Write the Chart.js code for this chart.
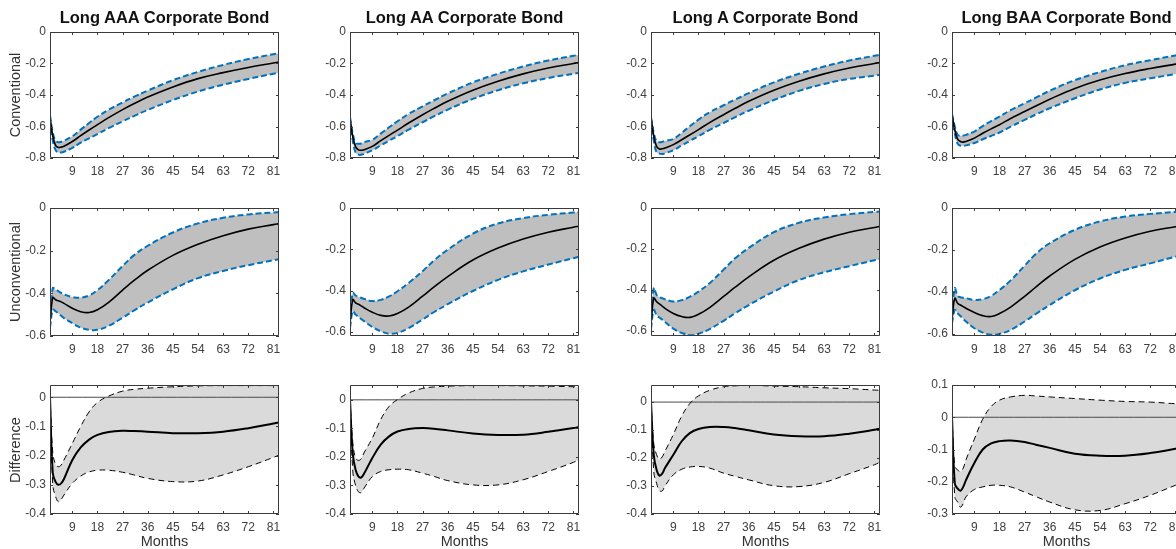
<!DOCTYPE html>
<html>
<head>
<meta charset="utf-8">
<title>Corporate bond responses</title>
<script src="https://cdn.jsdelivr.net/npm/chart.js@4.4.0/dist/chart.umd.min.js"></script>
<style>
  html, body { margin: 0; padding: 0; background: #fff; overflow: hidden; }
  body { width: 1176px; height: 549px; position: relative; font-family: "Liberation Sans", Arial, Helvetica, sans-serif; }
  .panel { position: absolute; }
  .title { position: absolute; height: 18px; line-height: 18px; font-weight: bold; font-size: 16.5px; color: #111; text-align: center; white-space: nowrap; }
  .ylab { position: absolute; width: 140px; height: 16px; line-height: 16px; font-size: 14.5px; color: #333; text-align: center; transform: rotate(-90deg); white-space: nowrap; }
  .xlab { position: absolute; height: 18px; line-height: 18px; font-size: 14.5px; color: #333; text-align: center; }
</style>
</head>
<body>
<script>
// Horizon (months) and axis ticks
const months = [1, 2, 3, 4, 5, 6, 9, 12, 15, 18, 22, 27, 31, 36, 45, 54, 63, 72, 81, 83];
const xTicks = [9, 18, 27, 36, 45, 54, 63, 72, 81];
const convTicks = [-0.8, -0.6, -0.4, -0.2, 0];
const unconvTicks = [-0.6, -0.4, -0.2, 0];
const diffTicks = [-0.4, -0.3, -0.2, -0.1, 0];
const diffTicksBaa = [-0.3, -0.2, -0.1, 0, 0.1];

const bonds = ['Long AAA Corporate Bond', 'Long AA Corporate Bond', 'Long A Corporate Bond', 'Long BAA Corporate Bond'];
const rowNames = ['Conventional', 'Unconventional', 'Difference'];

// Conventional shock
const aaaConvMid = [-0.54, -0.66, -0.72, -0.733, -0.731, -0.725, -0.695, -0.658, -0.622, -0.588, -0.544, -0.493, -0.456, -0.413, -0.349, -0.296, -0.258, -0.225, -0.197, -0.191];
const aaaConvUp  = [-0.53, -0.64, -0.69, -0.70, -0.697, -0.69, -0.662, -0.62, -0.578, -0.538, -0.493, -0.447, -0.412, -0.372, -0.306, -0.253, -0.209, -0.172, -0.141, -0.135];
const aaaConvLo  = [-0.56, -0.69, -0.75, -0.765, -0.765, -0.76, -0.736, -0.703, -0.675, -0.648, -0.61, -0.567, -0.534, -0.495, -0.432, -0.378, -0.335, -0.298, -0.265, -0.258];

const aaConvMid = [-0.55, -0.665, -0.728, -0.748, -0.751, -0.747, -0.726, -0.69, -0.656, -0.623, -0.578, -0.525, -0.486, -0.44, -0.37, -0.313, -0.266, -0.229, -0.2, -0.194];
const aaConvUp  = [-0.54, -0.645, -0.705, -0.71, -0.708, -0.70, -0.684, -0.645, -0.605, -0.567, -0.52, -0.472, -0.435, -0.39, -0.32, -0.265, -0.219, -0.181, -0.151, -0.145];
const aaConvLo  = [-0.56, -0.69, -0.765, -0.779, -0.78, -0.773, -0.751, -0.72, -0.69, -0.661, -0.62, -0.573, -0.536, -0.493, -0.425, -0.37, -0.326, -0.292, -0.265, -0.26];

const aConvMid = [-0.546, -0.662, -0.726, -0.743, -0.741, -0.736, -0.715, -0.684, -0.652, -0.62, -0.575, -0.525, -0.486, -0.44, -0.37, -0.313, -0.266, -0.229, -0.2, -0.194];
const aConvUp  = [-0.54, -0.64, -0.694, -0.70, -0.698, -0.692, -0.679, -0.64, -0.597, -0.556, -0.51, -0.465, -0.43, -0.388, -0.32, -0.265, -0.219, -0.181, -0.151, -0.145];
const aConvLo  = [-0.555, -0.69, -0.764, -0.772, -0.775, -0.77, -0.751, -0.72, -0.69, -0.662, -0.622, -0.578, -0.542, -0.5, -0.432, -0.374, -0.33, -0.298, -0.277, -0.272];

const baaConvMid = [-0.526, -0.621, -0.68, -0.695, -0.699, -0.695, -0.674, -0.643, -0.615, -0.589, -0.549, -0.505, -0.47, -0.427, -0.358, -0.305, -0.264, -0.232, -0.204, -0.198];
const baaConvUp  = [-0.52, -0.60, -0.653, -0.659, -0.658, -0.653, -0.632, -0.597, -0.566, -0.537, -0.496, -0.453, -0.417, -0.373, -0.306, -0.254, -0.211, -0.179, -0.149, -0.143];
const baaConvLo  = [-0.53, -0.645, -0.709, -0.722, -0.722, -0.72, -0.705, -0.681, -0.66, -0.638, -0.601, -0.558, -0.524, -0.484, -0.421, -0.365, -0.323, -0.294, -0.267, -0.262];

// Unconventional shock
const aaaUncMid = [-0.54, -0.42, -0.43, -0.435, -0.44, -0.447, -0.47, -0.486, -0.49, -0.477, -0.442, -0.385, -0.341, -0.292, -0.222, -0.17, -0.13, -0.099, -0.078, -0.073];
const aaaUncUp  = [-0.52, -0.375, -0.383, -0.39, -0.398, -0.405, -0.417, -0.42, -0.41, -0.385, -0.338, -0.272, -0.222, -0.177, -0.115, -0.072, -0.046, -0.03, -0.021, -0.02];
const aaaUncLo  = [-0.56, -0.477, -0.484, -0.495, -0.505, -0.516, -0.54, -0.561, -0.571, -0.571, -0.553, -0.514, -0.481, -0.443, -0.381, -0.329, -0.295, -0.268, -0.245, -0.24];

const aaUncMid = [-0.56, -0.444, -0.46, -0.466, -0.474, -0.483, -0.505, -0.52, -0.523, -0.511, -0.48, -0.427, -0.383, -0.332, -0.252, -0.194, -0.15, -0.117, -0.093, -0.088];
const aaUncUp  = [-0.54, -0.411, -0.424, -0.43, -0.435, -0.44, -0.451, -0.445, -0.428, -0.403, -0.363, -0.306, -0.255, -0.202, -0.124, -0.075, -0.049, -0.033, -0.022, -0.02];
const aaUncLo  = [-0.58, -0.5, -0.516, -0.527, -0.538, -0.548, -0.576, -0.597, -0.609, -0.605, -0.582, -0.54, -0.505, -0.466, -0.402, -0.348, -0.307, -0.274, -0.243, -0.236];

const aUncMid = [-0.57, -0.44, -0.457, -0.468, -0.479, -0.49, -0.515, -0.53, -0.534, -0.519, -0.486, -0.432, -0.388, -0.336, -0.255, -0.197, -0.152, -0.118, -0.095, -0.089];
const aUncUp  = [-0.55, -0.39, -0.424, -0.435, -0.44, -0.446, -0.457, -0.45, -0.433, -0.408, -0.367, -0.301, -0.247, -0.195, -0.118, -0.072, -0.046, -0.03, -0.019, -0.017];
const aUncLo  = [-0.59, -0.498, -0.523, -0.535, -0.545, -0.556, -0.589, -0.61, -0.621, -0.614, -0.591, -0.551, -0.515, -0.474, -0.408, -0.352, -0.314, -0.284, -0.255, -0.249];

const baaUncMid = [-0.533, -0.43, -0.454, -0.462, -0.47, -0.478, -0.498, -0.513, -0.517, -0.503, -0.472, -0.421, -0.377, -0.324, -0.245, -0.186, -0.143, -0.111, -0.089, -0.084];
const baaUncUp  = [-0.51, -0.382, -0.419, -0.425, -0.428, -0.43, -0.438, -0.435, -0.419, -0.391, -0.345, -0.275, -0.219, -0.168, -0.104, -0.064, -0.041, -0.028, -0.019, -0.017];
const baaUncLo  = [-0.55, -0.486, -0.502, -0.515, -0.528, -0.541, -0.573, -0.594, -0.604, -0.6, -0.581, -0.541, -0.505, -0.462, -0.392, -0.336, -0.295, -0.264, -0.232, -0.226];

// Difference
const aaaDiffMid = [0, -0.26, -0.29, -0.30, -0.295, -0.28, -0.215, -0.172, -0.145, -0.129, -0.119, -0.115, -0.116, -0.118, -0.123, -0.123, -0.118, -0.106, -0.09, -0.086];
const aaaDiffUp  = [0, -0.19, -0.23, -0.238, -0.232, -0.215, -0.158, -0.1, -0.05, -0.018, 0.004, 0.021, 0.027, 0.031, 0.036, 0.039, 0.04, 0.04, 0.04, 0.04];
const aaaDiffLo  = [0, -0.30, -0.34, -0.358, -0.35, -0.335, -0.295, -0.27, -0.256, -0.25, -0.25, -0.257, -0.266, -0.278, -0.289, -0.287, -0.266, -0.238, -0.206, -0.198];

const aaDiffMid = [0, -0.19, -0.245, -0.268, -0.272, -0.259, -0.204, -0.157, -0.128, -0.111, -0.102, -0.099, -0.101, -0.107, -0.118, -0.123, -0.122, -0.112, -0.099, -0.095];
const aaDiffUp  = [0, -0.15, -0.204, -0.212, -0.207, -0.186, -0.134, -0.069, -0.023, 0.001, 0.024, 0.04, 0.045, 0.048, 0.05, 0.05, 0.049, 0.048, 0.046, 0.046];
const aaDiffLo  = [0, -0.25, -0.30, -0.322, -0.325, -0.31, -0.269, -0.251, -0.245, -0.243, -0.245, -0.257, -0.268, -0.283, -0.298, -0.298, -0.28, -0.251, -0.219, -0.21];

const aDiffMid = [0, -0.19, -0.242, -0.263, -0.256, -0.236, -0.188, -0.14, -0.11, -0.096, -0.089, -0.089, -0.093, -0.101, -0.116, -0.122, -0.122, -0.113, -0.099, -0.095];
const aDiffUp  = [0, -0.15, -0.188, -0.204, -0.196, -0.176, -0.116, -0.05, -0.004, 0.022, 0.042, 0.055, 0.058, 0.06, 0.057, 0.055, 0.051, 0.048, 0.043, 0.042];
const aDiffLo  = [0, -0.25, -0.29, -0.316, -0.318, -0.30, -0.26, -0.24, -0.232, -0.23, -0.236, -0.254, -0.265, -0.278, -0.299, -0.302, -0.287, -0.256, -0.224, -0.215];

const baaDiffMid = [0, -0.205, -0.221, -0.228, -0.216, -0.195, -0.142, -0.1, -0.081, -0.074, -0.072, -0.077, -0.085, -0.095, -0.113, -0.119, -0.119, -0.111, -0.098, -0.095];
const baaDiffUp  = [0, -0.153, -0.163, -0.168, -0.158, -0.132, -0.068, -0.006, 0.033, 0.053, 0.063, 0.068, 0.066, 0.063, 0.058, 0.053, 0.049, 0.047, 0.042, 0.041];
const baaDiffLo  = [0, -0.247, -0.263, -0.279, -0.268, -0.247, -0.224, -0.216, -0.211, -0.211, -0.216, -0.232, -0.246, -0.263, -0.287, -0.289, -0.268, -0.242, -0.211, -0.205];

// Layout of the grid (plot-area positions, px)
const colLeft = [50, 350, 651, 952];
const plotW = 229;
const rowTop = [32, 208, 385];
const rowH = [126, 128, 129];
const PAD_L = 42, PAD_R = 12, PAD_T = 12, PAD_B = 24;

const FONT = '"Liberation Sans", Arial, Helvetica, sans-serif';
const BLUE = '#0072bd';
const TICK_COLOR = '#404040';

// Panel table: [row][col]
const panels = [
    [
        { mid: aaaConvMid, up: aaaConvUp, lo: aaaConvLo, min: -0.8, max: 0, ticks: convTicks },
        { mid: aaConvMid, up: aaConvUp, lo: aaConvLo, min: -0.8, max: 0, ticks: convTicks },
        { mid: aConvMid, up: aConvUp, lo: aConvLo, min: -0.8, max: 0, ticks: convTicks },
        { mid: baaConvMid, up: baaConvUp, lo: baaConvLo, min: -0.8, max: 0, ticks: convTicks }
    ],
    [
        { mid: aaaUncMid, up: aaaUncUp, lo: aaaUncLo, min: -0.6, max: 0, ticks: unconvTicks },
        { mid: aaUncMid, up: aaUncUp, lo: aaUncLo, min: -0.62, max: 0, ticks: unconvTicks },
        { mid: aUncMid, up: aUncUp, lo: aUncLo, min: -0.625, max: 0, ticks: unconvTicks },
        { mid: baaUncMid, up: baaUncUp, lo: baaUncLo, min: -0.61, max: 0, ticks: unconvTicks }
    ],
    [
        { mid: aaaDiffMid, up: aaaDiffUp, lo: aaaDiffLo, min: -0.4, max: 0.042, ticks: diffTicks },
        { mid: aaDiffMid, up: aaDiffUp, lo: aaDiffLo, min: -0.4, max: 0.052, ticks: diffTicks },
        { mid: aDiffMid, up: aDiffUp, lo: aDiffLo, min: -0.4, max: 0.061, ticks: diffTicks },
        { mid: baaDiffMid, up: baaDiffUp, lo: baaDiffLo, min: -0.3, max: 0.1, ticks: diffTicksBaa }
    ]
];

const toPts = arr => arr.map((v, i) => ({ x: months[i], y: v }));

// Box with inward ticks on all four sides (MATLAB style)
const boxPlugin = {
    id: 'matlabBox',
    afterDraw(chart) {
        const { ctx, chartArea: a, scales: { x, y } } = chart;
        ctx.save();
        ctx.strokeStyle = '#3a3a3a';
        ctx.lineWidth = 1;
        ctx.beginPath();
        ctx.rect(a.left + 0.5, a.top + 0.5, a.right - a.left - 1, a.bottom - a.top - 1);
        x.ticks.forEach(t => {
            const px = Math.round(x.getPixelForValue(t.value)) + 0.5;
            ctx.moveTo(px, a.bottom); ctx.lineTo(px, a.bottom - 3);
            ctx.moveTo(px, a.top); ctx.lineTo(px, a.top + 3);
        });
        y.ticks.forEach(t => {
            const py = Math.round(y.getPixelForValue(t.value)) + 0.5;
            ctx.moveTo(a.left, py); ctx.lineTo(a.left + 3, py);
            ctx.moveTo(a.right, py); ctx.lineTo(a.right - 3, py);
        });
        ctx.stroke();
        ctx.restore();
    }
};

function addText(cls, text, left, top, width) {
    const d = document.createElement('div');
    d.className = cls;
    d.textContent = text;
    d.style.left = left + 'px';
    d.style.top = top + 'px';
    if (width) d.style.width = width + 'px';
    document.body.appendChild(d);
}

function makePanel(r, c) {
    const p = panels[r][c];
    const isDiff = r === 2;
    const w = plotW + PAD_L + PAD_R;
    const h = rowH[r] + PAD_T + PAD_B;

    const holder = document.createElement('div');
    holder.className = 'panel';
    holder.style.left = (colLeft[c] - PAD_L) + 'px';
    holder.style.top = (rowTop[r] - PAD_T) + 'px';
    const canvas = document.createElement('canvas');
    canvas.width = w;
    canvas.height = h;
    holder.appendChild(canvas);
    document.body.appendChild(holder);

    const datasets = [
        { data: toPts(p.mid), borderColor: '#000', borderWidth: isDiff ? 2 : 1.6, fill: false },
        {
            data: toPts(p.up), borderColor: isDiff ? '#000' : BLUE, borderWidth: isDiff ? 1 : 2,
            borderDash: isDiff ? [6, 4] : [6, 3], fill: '+1',
            backgroundColor: isDiff ? '#dadada' : '#bfbfbf'
        },
        {
            data: toPts(p.lo), borderColor: isDiff ? '#000' : BLUE, borderWidth: isDiff ? 1 : 2,
            borderDash: isDiff ? [6, 4] : [6, 3], fill: false
        }
    ];
    if (isDiff) {
        datasets.push({ data: [{ x: months[0], y: 0 }, { x: months[months.length - 1], y: 0 }], borderColor: '#4a4a4a', borderWidth: 1, fill: false });
    }

    new Chart(canvas.getContext('2d'), {
        type: 'line',
        data: { datasets },
        options: {
            responsive: false,
            animation: false,
            events: [],
            layout: { padding: { top: PAD_T, right: PAD_R, left: 0, bottom: 0 } },
            elements: {
                point: { radius: 0 },
                line: { tension: 0.4 }
            },
            plugins: {
                legend: { display: false },
                tooltip: { enabled: false },
                filler: { drawTime: 'beforeDatasetsDraw' }
            },
            scales: {
                x: {
                    type: 'linear', min: 1, max: 83,
                    grid: { display: false, drawTicks: false },
                    border: { display: false },
                    afterBuildTicks: s => { s.ticks = xTicks.map(v => ({ value: v })); },
                    afterFit: s => { s.height = PAD_B; },
                    ticks: { padding: 6, maxRotation: 0, autoSkip: false, color: TICK_COLOR, font: { family: FONT, size: 12 } }
                },
                y: {
                    type: 'linear', min: p.min, max: p.max,
                    grid: { display: false, drawTicks: false },
                    border: { display: false },
                    afterBuildTicks: s => { s.ticks = p.ticks.map(v => ({ value: v })); },
                    afterFit: s => { s.width = PAD_L; },
                    ticks: {
                        padding: 4, color: TICK_COLOR, font: { family: FONT, size: 12 },
                        callback: v => Math.abs(v) < 1e-9 ? '0' : v.toFixed(1)
                    }
                }
            }
        },
        plugins: [boxPlugin]
    });
}

for (let r = 0; r < 3; r++) {
    for (let c = 0; c < 4; c++) makePanel(r, c);
}

bonds.forEach((b, c) => addText('title', b, colLeft[c] - 30, 8, plotW + 60));
rowNames.forEach((n, r) => addText('ylab', n, 15 - 70, rowTop[r] + rowH[r] / 2 - 8));
colLeft.forEach(x => addText('xlab', 'Months', x, 532, plotW));
</script>
</body>
</html>
